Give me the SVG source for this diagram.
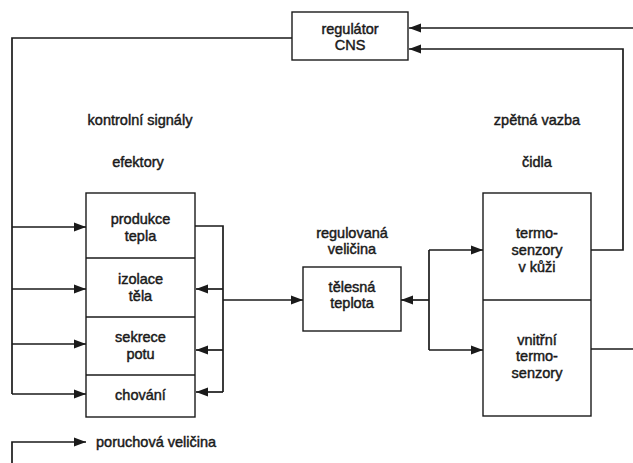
<svg xmlns="http://www.w3.org/2000/svg" width="633" height="463" viewBox="0 0 633 463">
<style>
  .box { fill: #ffffff; stroke: #1a1a1a; stroke-width: 1.4; }
  .div { stroke: #1a1a1a; stroke-width: 1.4; fill: none; }
  .ln { fill: none; stroke: #1a1a1a; stroke-width: 1.7; }
  .arr { fill: none; stroke: #1a1a1a; stroke-width: 1.7; marker-end: url(#ah); }
  text { font-family: "Liberation Sans", Arial, Helvetica, sans-serif; font-size: 14.5px; fill: #1a1a1a; stroke: #1a1a1a; stroke-width: 0.45; text-anchor: middle; }
  .lt { text-anchor: start; }
</style>
<defs>
  <marker id="ah" markerUnits="userSpaceOnUse" markerWidth="12" markerHeight="10" refX="12" refY="5" orient="auto">
    <path d="M0,0.5 L12,5 L0,9.5 z" fill="#1a1a1a"/>
  </marker>
</defs>
<rect width="633" height="463" fill="#ffffff"/>

<g id="connectors">
  <path class="arr" d="M633,28 L409,28"/>
  <path class="arr" d="M591,250 L623,250 L623,49 L409,49"/>
  <path class="ln" d="M292,38 L12,38 L12,394"/>
  <path class="arr" d="M12,227 L86,227"/>
  <path class="arr" d="M12,289 L86,289"/>
  <path class="arr" d="M12,344 L86,344"/>
  <path class="arr" d="M12,394 L86,394"/>
  <path class="ln" d="M195,226 L223,226 L223,392"/>
  <path class="arr" d="M223,289 L196,289"/>
  <path class="arr" d="M223,350 L196,350"/>
  <path class="arr" d="M223,392 L196,392"/>
  <path class="arr" d="M223,300 L303,300"/>
  <path class="arr" d="M429,300 L401,300"/>
  <path class="ln" d="M429,250 L429,350"/>
  <path class="arr" d="M429,250 L483,250"/>
  <path class="arr" d="M429,350 L483,350"/>
  <path class="ln" d="M591,349 L633,349"/>
  <path class="arr" d="M12,463 L12,442 L86,442"/>
</g>

<g id="regulator">
  <rect class="box" x="292" y="12" width="116" height="48"/>
  <text x="350" y="34">regulátor</text>
  <text x="350" y="50">CNS</text>
</g>

<g id="labels">
  <text x="140" y="125">kontrolní signály</text>
  <text x="138" y="167">efektory</text>
  <text x="537" y="125">zpětná vazba</text>
  <text x="537" y="167">čidla</text>
  <text x="352" y="238">regulovaná</text>
  <text x="352" y="254">veličina</text>
  <text class="lt" x="96" y="447">poruchová veličina</text>
</g>

<g id="effectors">
  <rect class="box" x="86" y="193" width="109" height="224"/>
  <line class="div" x1="86" y1="258" x2="195" y2="258"/>
  <line class="div" x1="86" y1="317" x2="195" y2="317"/>
  <line class="div" x1="86" y1="375" x2="195" y2="375"/>
</g>
<g id="produkce-tepla">
  <text x="140.5" y="224">produkce</text>
  <text x="140.5" y="241">tepla</text>
</g>
<g id="izolace-tela">
  <text x="140.5" y="284">izolace</text>
  <text x="140.5" y="301">těla</text>
</g>
<g id="sekrece-potu">
  <text x="140.5" y="342">sekrece</text>
  <text x="140.5" y="359">potu</text>
</g>
<g id="chovani">
  <text x="140.5" y="400">chování</text>
</g>

<g id="telesna-teplota">
  <rect class="box" x="303" y="267" width="98" height="64"/>
  <text x="352" y="292">tělesná</text>
  <text x="352" y="308">teplota</text>
</g>

<g id="sensors">
  <rect class="box" x="483" y="193" width="108" height="223"/>
  <line class="div" x1="483" y1="300" x2="591" y2="300"/>
</g>
<g id="termosenzory-kuze">
  <text x="537" y="238">termo-</text>
  <text x="537" y="255">senzory</text>
  <text x="537" y="272">v kůži</text>
</g>
<g id="vnitrni-termosenzory">
  <text x="537" y="345">vnitřní</text>
  <text x="537" y="361">termo-</text>
  <text x="537" y="378">senzory</text>
</g>
</svg>
